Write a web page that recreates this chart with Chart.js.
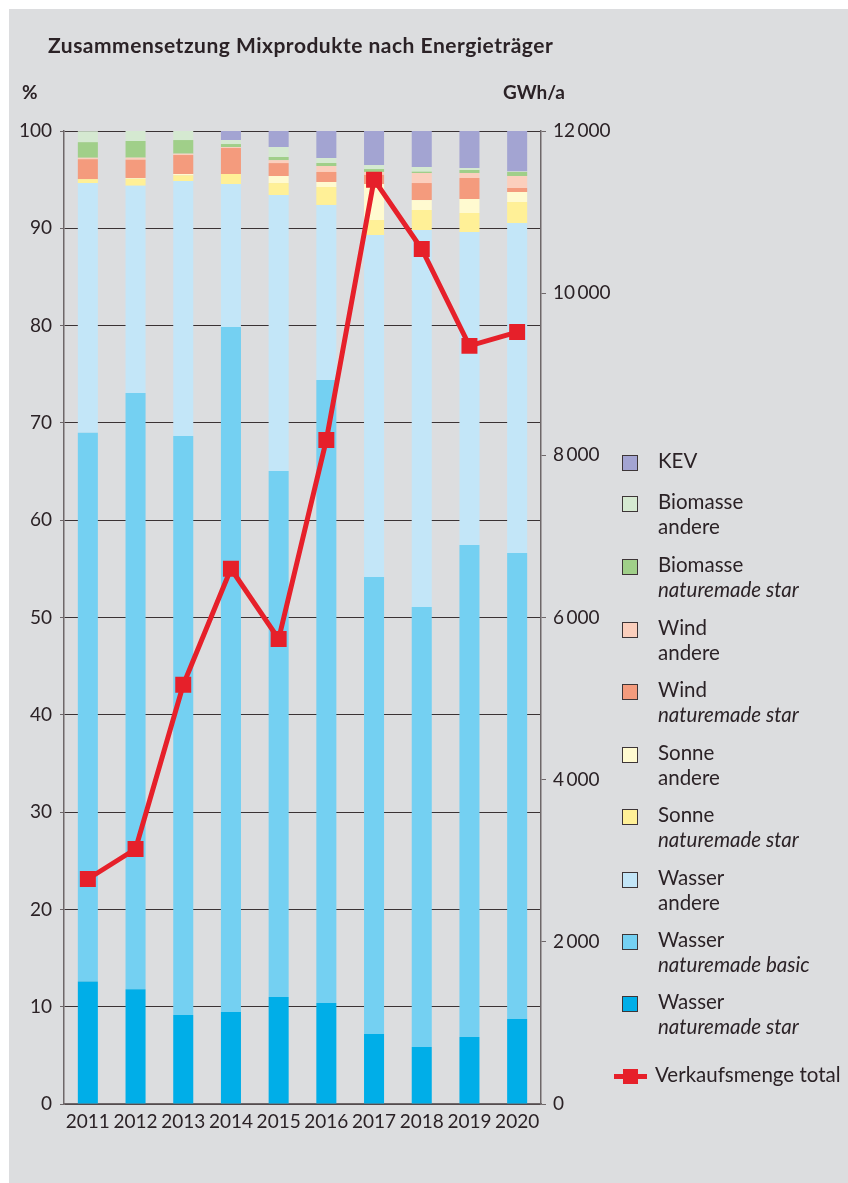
<!DOCTYPE html>
<html>
<head>
<meta charset="utf-8">
<script src="https://cdn.jsdelivr.net/npm/chart.js@4"></script>
<style>
  body { margin: 0; background: #fff; font-family: Lato, "Open Sans", sans-serif; color: #2b2226; }
  #wrap { position: relative; width: 848px; height: 1183px; overflow: hidden; }
  #panel { position: absolute; left: 9px; top: 9px; right: 0; bottom: 0; background: #dcdddf; }
  #chart { position: absolute; left: 0; top: 0; }
  .lbl { position: absolute; white-space: nowrap; }
  #title { left: 48px; top: 32px; font-size: 21px; letter-spacing: 0.5px; font-weight: bold; }
  #unitL { left: 22px; top: 80px; font-size: 19px; font-weight: bold; }
  #unitR { left: 503px; top: 80px; font-size: 19px; font-weight: bold; }
  .leg { position: absolute; left: 622px; font-size: 20.5px; line-height: 25px; }
  .leg .box { position: absolute; left: 0; top: 5px; width: 14px; height: 14px; border: 1px solid #3d3537; }
  .leg .txt { position: absolute; left: 36px; top: -2px; white-space: nowrap; }
  .leg i { font-style: italic; }
</style>
</head>
<body>
<div id="wrap">
  <div id="panel"></div>
  <canvas id="chart" width="848" height="1183"></canvas>
  <div class="lbl" id="title">Zusammensetzung Mixprodukte nach Energieträger</div>
  <div class="lbl" id="unitL">%</div>
  <div class="lbl" id="unitR">GWh/a</div>
  <div id="legend"></div>
</div>
<script>
const years = ['2011', '2012', '2013', '2014', '2015', '2016', '2017', '2018', '2019', '2020'];

// shares in % (stacked from bottom to top)
const wasserStar   = [12.6, 11.8, 9.15, 9.46, 11.0, 10.38, 7.2, 5.86, 6.89, 8.74];
const wasserBasic  = [56.4, 61.27, 59.5, 70.4, 54.06, 64.02, 46.96, 45.22, 50.56, 47.89];
const wasserAndere = [25.65, 21.31, 26.21, 14.69, 28.36, 18.0, 35.14, 38.74, 32.17, 33.91];
const sonneStar    = [0.4, 0.72, 0.58, 1.03, 1.23, 1.84, 1.55, 2.06, 1.95, 2.16];
const sonneAndere  = [0, 0.07, 0.14, 0, 0.72, 0.52, 3.7, 1.02, 1.44, 1.03];
const windStar     = [2.05, 1.88, 1.95, 2.67, 1.33, 1.03, 0.94, 1.75, 2.16, 0.41];
const windAndere   = [0.15, 0.21, 0.14, 0.1, 0.3, 0.61, 0.3, 1.03, 0.51, 1.23];
const bioStar      = [1.6, 1.71, 1.4, 0.31, 0.33, 0.31, 0.3, 0.14, 0.31, 0.42];
const bioAndere    = [1.13, 1.03, 0.93, 0.41, 1.02, 0.51, 0.41, 0.48, 0.21, 0.05];
const kev          = [0, 0, 0, 0.93, 1.65, 2.78, 3.5, 3.7, 3.8, 4.21];

// total sales in GWh/a (right axis)
const verkaufsmenge = [2775, 3145, 5170, 6600, 5735, 8190, 11400, 10545, 9350, 9520];

const leftTicks = [0, 10, 20, 30, 40, 50, 60, 70, 80, 90, 100];
const rightTicks = [0, 2000, 4000, 6000, 8000, 10000, 12000];

const bars = [
  { name: 'Wasser', sub: 'naturemade star', data: wasserStar, color: '#00aee8' },
  { name: 'Wasser', sub: 'naturemade basic', data: wasserBasic, color: '#74d0f2' },
  { name: 'Wasser', sub: 'andere', data: wasserAndere, color: '#c3e6f8' },
  { name: 'Sonne', sub: 'naturemade star', data: sonneStar, color: '#fff097' },
  { name: 'Sonne', sub: 'andere', data: sonneAndere, color: '#fffad0' },
  { name: 'Wind', sub: 'naturemade star', data: windStar, color: '#f49b7d' },
  { name: 'Wind', sub: 'andere', data: windAndere, color: '#fbcfbd' },
  { name: 'Biomasse', sub: 'naturemade star', data: bioStar, color: '#a0cf89' },
  { name: 'Biomasse', sub: 'andere', data: bioAndere, color: '#d5e9d1' },
  { name: 'KEV', sub: '', data: kev, color: '#a3a4d2' }
];
const lineColor = '#e6202a';
const textColor = '#2b2226';
const axisColor = '#6e6769';
const tickFont = { family: 'Lato, "Open Sans", sans-serif', size: 19 };

const datasets = bars.map(b => ({
  type: 'bar',
  label: b.name + ' ' + b.sub,
  data: b.data,
  backgroundColor: b.color,
  borderWidth: 0,
  yAxisID: 'y',
  stack: 'mix',
  order: 2,
  barPercentage: 0.42,
  categoryPercentage: 1
}));
datasets.push({
  type: 'line',
  label: 'Verkaufsmenge total',
  data: verkaufsmenge,
  borderColor: lineColor,
  backgroundColor: lineColor,
  borderWidth: 5,
  pointStyle: 'rect',
  pointRadius: 11.3,
  pointBorderWidth: 0,
  yAxisID: 'y1',
  order: 0
});

new Chart(document.getElementById('chart'), {
  data: { labels: years, datasets: datasets },
  options: {
    responsive: false,
    animation: false,
    devicePixelRatio: 1,
    layout: { padding: { top: 131, left: 0, right: 0, bottom: 0 } },
    plugins: { legend: { display: false }, tooltip: { enabled: false } },
    scales: {
      x: {
        stacked: true,
        grid: { display: false, drawTicks: false },
        border: { color: axisColor, width: 1.5 },
        ticks: { color: textColor, font: tickFont, padding: 6, maxRotation: 0, autoSkip: false },
        afterFit: s => { s.height = 79; }
      },
      y: {
        stacked: true,
        position: 'left',
        min: 0,
        max: 100,
        afterBuildTicks: s => { s.ticks = leftTicks.map(v => ({ value: v })); },
        grid: { color: '#3a3234', lineWidth: 1, tickLength: 4, tickColor: axisColor },
        border: { color: axisColor, width: 1.5 },
        ticks: { color: textColor, font: tickFont, padding: 8 },
        afterFit: s => { s.width = 64; }
      },
      y1: {
        position: 'right',
        min: 0,
        max: 12000,
        afterBuildTicks: s => { s.ticks = rightTicks.map(v => ({ value: v })); },
        grid: { drawOnChartArea: false, tickLength: 5, tickColor: axisColor },
        border: { color: axisColor, width: 1.5 },
        ticks: {
          color: textColor, font: tickFont, padding: 7,
          callback: v => v >= 1000 ? Math.floor(v / 1000) + '\u2009' + String(v % 1000).padStart(3, '0') : String(v)
        },
        afterFit: s => { s.width = 848 - 541; }
      }
    }
  }
});

// legend, built from the series definitions (top of stack first)
const legendTop = [462, 503, 566, 629, 691, 754, 816, 879, 941, 1003];
const legend = document.getElementById('legend');
bars.slice().reverse().forEach((b, i) => {
  const d = document.createElement('div');
  d.className = 'leg';
  d.style.top = (legendTop[i] - 12) + 'px';
  const sub = b.sub === 'andere' ? b.sub : (b.sub ? '<i>' + b.sub + '</i>' : '');
  d.innerHTML = '<div class="box" style="background:' + b.color + '"></div>' +
    '<div class="txt">' + b.name + (sub ? '<br>' + sub : '') + '</div>';
  legend.appendChild(d);
});
const ld = document.createElement('div');
ld.className = 'leg';
ld.style.top = (1076 - 12) + 'px';
ld.style.left = '614px';
ld.innerHTML = '<div style="position:absolute;left:0;top:10px;width:33px;height:5px;background:' + lineColor + '"></div>' +
  '<div style="position:absolute;left:9px;top:5px;width:15px;height:15px;background:' + lineColor + '"></div>' +
  '<div class="txt" style="left:41px">Verkaufsmenge total</div>';
legend.appendChild(ld);
</script>
</body>
</html>
